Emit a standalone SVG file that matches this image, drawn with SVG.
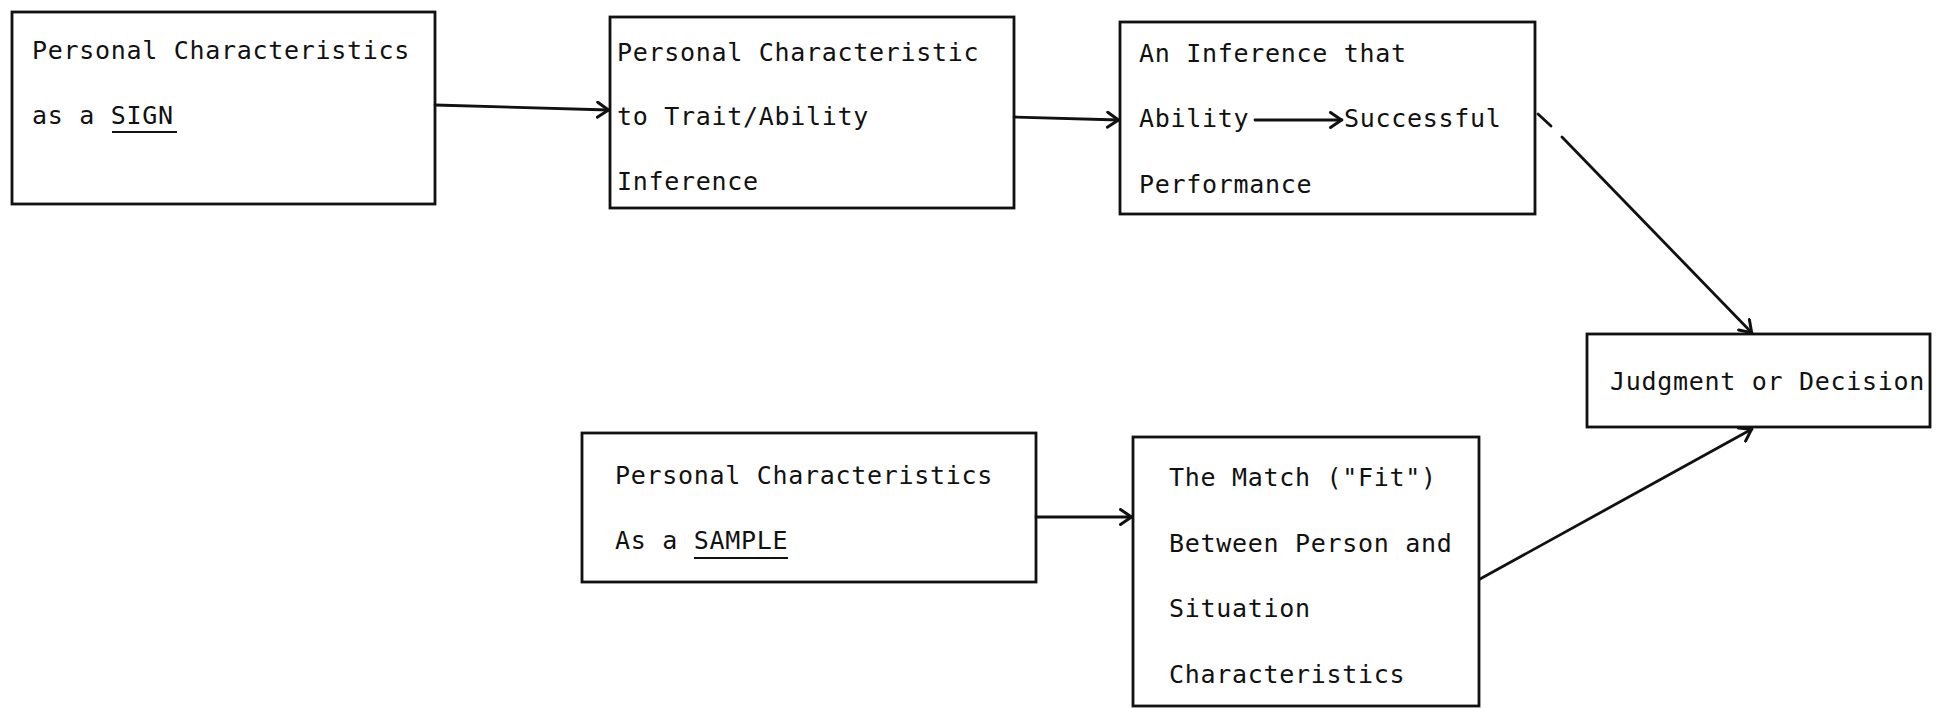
<svg xmlns="http://www.w3.org/2000/svg" width="1939" height="708" viewBox="0 0 1939 708">
<style>
.box{fill:none;stroke:#111;stroke-width:2.8}
.t{font-family:"DejaVu Sans Mono","Liberation Mono",monospace;font-size:25px;letter-spacing:0.7px;fill:#111}
.c{fill:none;stroke:#111;stroke-width:2.8;stroke-linecap:round}
.u{stroke:#111;stroke-width:2}
</style>
<defs>
<marker id="ah" viewBox="0 0 14 18" refX="13" refY="9" markerWidth="14" markerHeight="18" markerUnits="userSpaceOnUse" orient="auto">
<path d="M1.5,1.5 L12.5,9 L1.5,16.5" fill="none" stroke="#111" stroke-width="3" stroke-linecap="round" stroke-linejoin="round"/>
</marker>
</defs>
<rect width="1939" height="708" fill="#fff"/>
<g id="n1">
<rect class="box" x="12" y="12" width="423" height="192"/>
<text class="t" x="32" y="59">Personal Characteristics</text>
<text class="t" x="32" y="124">as a SIGN</text>
<line class="u" x1="112" y1="132" x2="177" y2="132"/>
</g>
<g id="n2">
<rect class="box" x="610" y="17" width="404" height="191"/>
<text class="t" x="617" y="61">Personal Characteristic</text>
<text class="t" x="617" y="125">to Trait/Ability</text>
<text class="t" x="617" y="190">Inference</text>
</g>
<g id="n3">
<rect class="box" x="1120" y="22" width="415" height="192"/>
<text class="t" x="1139" y="62">An Inference that</text>
<text class="t" x="1139" y="127">Ability</text>
<line class="c" x1="1255" y1="120" x2="1342" y2="120" marker-end="url(#ah)"/>
<text class="t" x="1344" y="127">Successful</text>
<text class="t" x="1139" y="193">Performance</text>
</g>
<g id="n4">
<rect class="box" x="1587" y="334" width="343" height="93"/>
<text class="t" x="1610" y="390">Judgment or Decision</text>
</g>
<g id="n5">
<rect class="box" x="582" y="433" width="454" height="149"/>
<text class="t" x="615" y="484">Personal Characteristics</text>
<text class="t" x="615" y="549">As a SAMPLE</text>
<line class="u" x1="694" y1="558" x2="788" y2="558"/>
</g>
<g id="n6">
<rect class="box" x="1133" y="437" width="346" height="269"/>
<text class="t" x="1169" y="486">The Match ("Fit")</text>
<text class="t" x="1169" y="552">Between Person and</text>
<text class="t" x="1169" y="617">Situation</text>
<text class="t" x="1169" y="683">Characteristics</text>
</g>
<g id="connectors">
<line class="c" x1="435" y1="105" x2="609" y2="110" marker-end="url(#ah)"/>
<line class="c" x1="1014" y1="117" x2="1119" y2="120" marker-end="url(#ah)"/>
<line class="c" x1="1538" y1="114" x2="1551" y2="126"/>
<line class="c" x1="1562" y1="137" x2="1752" y2="333" marker-end="url(#ah)"/>
<line class="c" x1="1480" y1="579" x2="1752" y2="429" marker-end="url(#ah)"/>
<line class="c" x1="1036" y1="517" x2="1132" y2="517" marker-end="url(#ah)"/>
</g>
</svg>
